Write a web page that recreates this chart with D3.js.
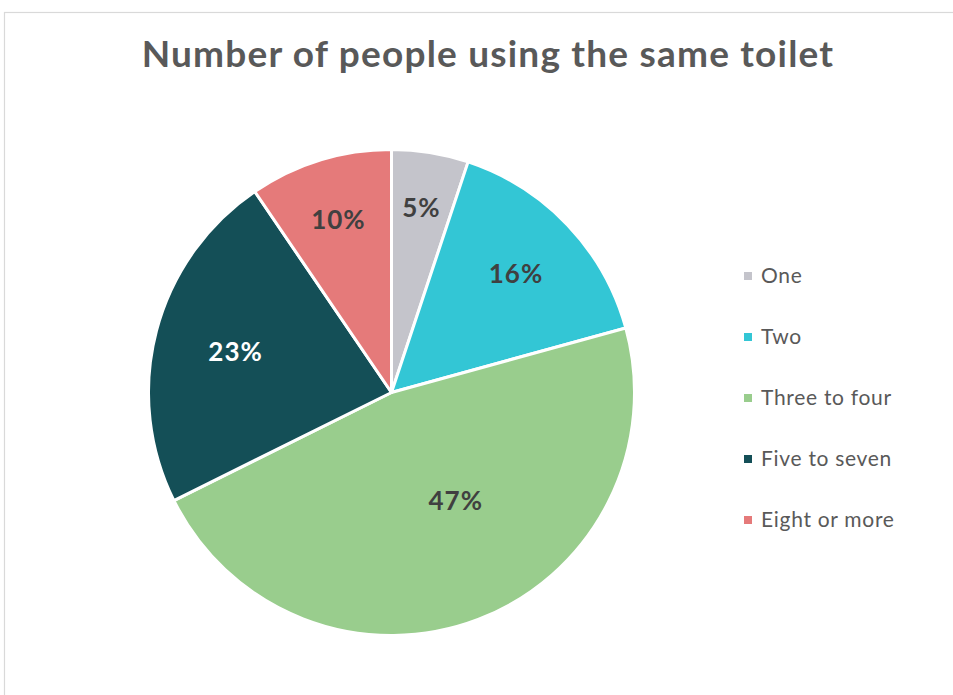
<!DOCTYPE html>
<html>
<head>
<meta charset="utf-8">
<script src="https://cdn.jsdelivr.net/npm/d3@7"></script>
<style>
  body { margin: 0; background: #fff; }
  svg { display: block; }
</style>
</head>
<body>
<svg id="chart" width="953" height="695"></svg>
<script>
// data
var categories = ["One", "Two", "Three to four", "Five to seven", "Eight or more"];
var shares = [5.1, 15.6, 46.9, 22.8, 9.5];
var labels = ["5%", "16%", "47%", "23%", "10%"];
var colors = ["#c4c4cb", "#33c6d5", "#99cd8d", "#144f57", "#e57a7a"];

var svg = d3.select("#chart");
var font = "Lato, 'Open Sans', sans-serif";

// chart frame (cut off on the right and bottom)
svg.append("rect")
    .attr("x", 4.5).attr("y", 12.5)
    .attr("width", 1000).attr("height", 800)
    .attr("fill", "none")
    .attr("stroke", "#d9d9d9")
    .attr("stroke-width", 1.2);

svg.append("text")
    .attr("x", 488).attr("y", 67)
    .attr("text-anchor", "middle")
    .attr("font-family", font)
    .attr("font-weight", "bold")
    .attr("font-size", "37px")
    .attr("letter-spacing", "1.2px")
    .attr("fill", "#595959")
    .text("Number of people using the same toilet");

var cx = 391.5, cy = 392.5, R = 243;

var pie = d3.pie().sort(null).value(function (d) { return d; });
var arcs = pie(shares);
var arc = d3.arc().innerRadius(0).outerRadius(R);

var g = svg.append("g").attr("transform", "translate(" + cx + "," + cy + ")");

g.selectAll("path")
    .data(arcs)
    .enter().append("path")
    .attr("d", arc)
    .attr("fill", function (d, i) { return colors[i]; })
    .attr("stroke", "#fff")
    .attr("stroke-width", 3)
    .attr("stroke-linejoin", "round");

// labels sit further in for the bigger slices
g.selectAll("text")
    .data(arcs)
    .enter().append("text")
    .attr("transform", function (d) {
        var r = R * (0.8 - 0.3 * d.value / 50);
        var a = (d.startAngle + d.endAngle) / 2 - (d.value > 40 ? 0.17 : 0);
        return "translate(" + (r * Math.sin(a)) + "," + (-r * Math.cos(a)) + ")";
    })
    .attr("dy", "0.35em")
    .attr("text-anchor", "middle")
    .attr("font-family", font)
    .attr("font-weight", "bold")
    .attr("font-size", "26px")
    .attr("letter-spacing", "1px")
    .attr("fill", function (d, i) { return i === 3 ? "#fff" : "#404040"; })
    .text(function (d, i) { return labels[i]; });

var legend = svg.append("g")
    .selectAll("g")
    .data(categories)
    .enter().append("g")
    .attr("transform", function (d, i) { return "translate(744," + (276 + i * 61) + ")"; });

legend.append("rect")
    .attr("x", 0).attr("y", -4)
    .attr("width", 8).attr("height", 8)
    .attr("fill", function (d, i) { return colors[i]; });

legend.append("text")
    .attr("x", 17).attr("y", 0)
    .attr("dy", "0.35em")
    .attr("font-family", font)
    .attr("font-size", "21px")
    .attr("letter-spacing", "0.7px")
    .attr("fill", "#595959")
    .text(function (d) { return d; });
</script>
</body>
</html>
